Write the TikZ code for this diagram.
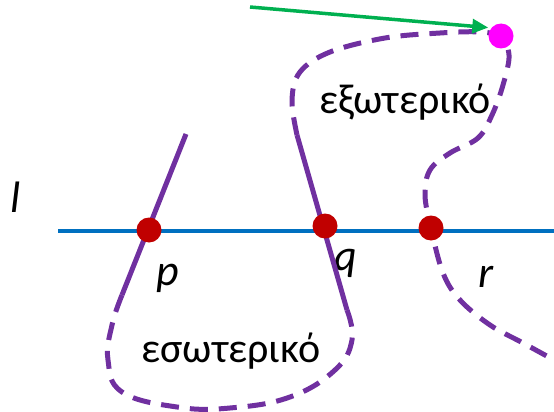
\documentclass[tikz,border=0pt]{standalone}
\usepackage{fontspec}
\setmainfont{Carlito}
\usetikzlibrary{arrows.meta}
\definecolor{lila}{HTML}{7030A0}
\definecolor{linie}{HTML}{0070C0}
\definecolor{punkt}{HTML}{C00000}
\definecolor{pfeil}{HTML}{00B050}
\definecolor{pink}{HTML}{FF00FF}
\tikzstyle{kurve}=[lila, line width=5pt, line join=round]
\tikzstyle{gestr}=[kurve, dash pattern=on 18pt off 11pt]
\tikzstyle{dot}=[circle, fill=punkt, inner sep=0pt, minimum size=25pt]
\tikzstyle{lbl}=[font=\fontsize{44}{48}\selectfont\itshape, anchor=base, inner sep=0pt]
\tikzstyle{txt}=[font=\fontsize{42}{46}\selectfont, anchor=base, inner sep=0pt]
\begin{document}
\begin{tikzpicture}[x=1pt,y=-1pt]
\useasboundingbox (0,0) rectangle (554,412);
\node[lbl] (l) at (16,212) {l};
\node[lbl] (pl) at (168,285) {p};
\node[lbl] (ql) at (346,270) {q};
\node[lbl] (rl) at (486,287) {r};
\node[txt] (ext) at (405,113) {εξωτερικό};
\node[txt] (int) at (231,362) {εσωτερικό};
\coordinate (L0) at (58,231); \coordinate (L1) at (554,231);
\draw[linie, line width=3.5pt] (L0)--(L1);
% curve
\draw[kurve] (186,134)--(122,295);
\draw[gestr] plot[smooth, tension=0.7] coordinates {(122,295) (112,325) (108,360) (122,392) (177,407) (230,408) (290,397) (335,370) (352,340) (347,310)};
\draw[kurve] (347,310)--(297,135);
\draw[gestr] plot[smooth, tension=0.6] coordinates {(297,135) (292,100) (300,72) (330,52) (385,38) (440,33) (480,32) (500,37) (509,55) (503,85) (492,115) (478,138) (450,153) (430,170) (425,195) (431,228) (443,273) (460,300) (490,325) (523,343) (554,360)};
\node[dot] (P) at (149,230) {};
\node[dot] (Q) at (325,226) {};
\node[dot] (R) at (431,228) {};
\node[dot, fill=pink] (M) at (501,36) {};
\coordinate (A0) at (250,7);
\draw[pfeil, line width=3.5pt, -{Triangle[length=16pt,width=14pt]}, shorten >=3pt] (A0)--(M.140);
\end{tikzpicture}
\end{document}
